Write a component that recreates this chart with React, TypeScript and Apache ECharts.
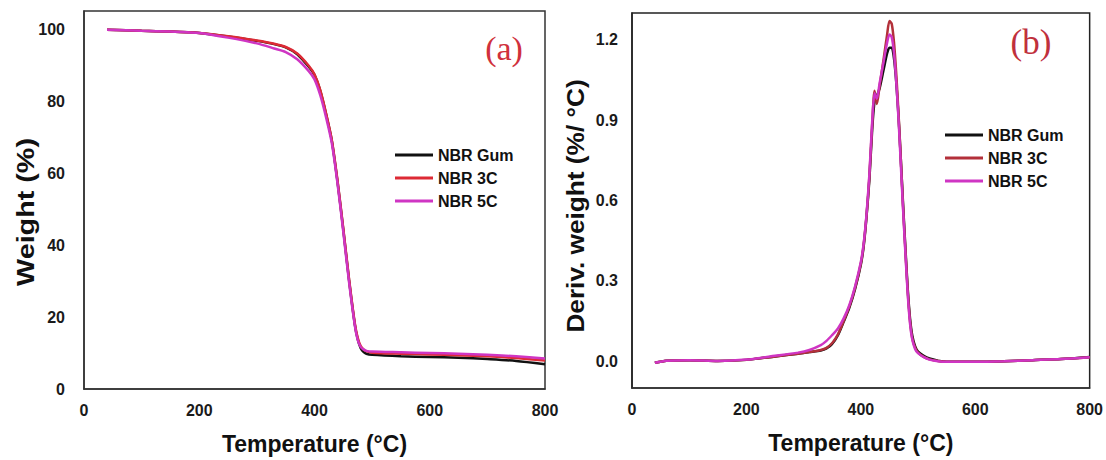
import React, { useEffect, useRef } from "react";
import * as echarts from "echarts";

// ---- TGA (panel a) ----
const tgaTemp = [40, 100, 150, 200, 250, 300, 330, 350, 370, 390, 400, 410, 420, 430, 440, 450, 460, 470, 475, 480, 485, 490, 500, 550, 600, 650, 700, 750, 800];
const tgaGum = [99.8, 99.5, 99.3, 98.9, 97.9, 96.7, 95.8, 94.9, 93.0, 89.5, 87.2, 82.8, 76.4, 69.0, 57.5, 44.2, 30.2, 17.9, 13.8, 11.4, 10.3, 9.8, 9.5, 9.1, 8.9, 8.7, 8.3, 7.8, 6.9];
const tga3C = [99.8, 99.5, 99.3, 98.9, 98.0, 96.8, 95.9, 95.0, 93.2, 89.8, 87.4, 83.0, 76.6, 69.2, 57.8, 44.5, 30.5, 18.2, 14.2, 12.0, 11.0, 10.5, 10.1, 9.8, 9.6, 9.4, 9.1, 8.6, 7.9];
const tga5C = [99.8, 99.5, 99.3, 98.9, 97.6, 96.0, 94.6, 93.6, 91.6, 88.3, 86.0, 81.6, 75.5, 68.3, 57.0, 43.6, 29.6, 17.6, 13.6, 11.7, 11.0, 10.6, 10.4, 10.2, 10.0, 9.8, 9.5, 9.1, 8.5];

// ---- DTG (panel b) ----
const dtgTemp = [40, 60, 100, 150, 200, 250, 290, 310, 330, 340, 350, 360, 370, 380, 390, 400, 405, 410, 415, 420, 424, 428, 433, 440, 446, 450, 454, 458, 462, 466, 470, 474, 478, 482, 486, 490, 495, 500, 510, 520, 535, 550, 600, 650, 700, 750, 800];
const dtgGum = [-0.006, 0.002, 0.004, 0.001, 0.005, 0.018, 0.028, 0.034, 0.04, 0.048, 0.065, 0.097, 0.147, 0.2, 0.27, 0.36, 0.43, 0.54, 0.68, 0.87, 0.97, 0.99, 1.02, 1.09, 1.15, 1.17, 1.17, 1.13, 1.04, 0.91, 0.75, 0.58, 0.42, 0.27, 0.16, 0.095, 0.055, 0.036, 0.02, 0.01, 0.002, -0.002, -0.002, 0.0, 0.004, 0.008, 0.016];
const dtg3C = [-0.006, 0.002, 0.004, 0.001, 0.005, 0.018, 0.028, 0.034, 0.042, 0.05, 0.068, 0.1, 0.15, 0.205, 0.275, 0.365, 0.435, 0.545, 0.69, 0.89, 1.01, 0.96, 1.03, 1.13, 1.22, 1.27, 1.26, 1.19, 1.07, 0.92, 0.75, 0.57, 0.41, 0.26, 0.15, 0.085, 0.05, 0.032, 0.016, 0.007, 0.001, -0.002, -0.002, 0.0, 0.004, 0.008, 0.015];
const dtg5C = [-0.006, 0.002, 0.004, 0.001, 0.006, 0.02, 0.032, 0.042, 0.06, 0.076, 0.098, 0.122, 0.16, 0.21, 0.28, 0.37, 0.44, 0.55, 0.7, 0.9, 1.0, 0.98, 1.04, 1.12, 1.19, 1.22, 1.21, 1.15, 1.04, 0.9, 0.73, 0.56, 0.4, 0.25, 0.14, 0.08, 0.045, 0.03, 0.015, 0.006, 0.0, -0.002, -0.002, 0.0, 0.004, 0.008, 0.015];

const seriesNames = ["NBR Gum", "NBR 3C", "NBR 5C"];
const xTicks = [0, 200, 400, 600, 800];
const weightTicks = [0, 20, 40, 60, 80, 100];
const derivTicks = [0, 0.3, 0.6, 0.9, 1.2];

const FONT = '"Liberation Sans", Arial, Helvetica, sans-serif';
const colorsA = ["#111111", "#dd2a35", "#cf35c3"];
const colorsB = ["#111111", "#b3303a", "#cf35c3"];

const zip = (xs: number[], ys: number[]) => xs.map((x, i) => [x, ys[i]]);

export default function App() {
  const ref = useRef<HTMLDivElement>(null);

  useEffect(() => {
    if (!ref.current) return;
    const chart = echarts.init(ref.current, undefined, { renderer: "svg" });

    const isTick = (v: number, ticks: number[]) => ticks.some((t) => Math.abs(t - v) < 1e-6);

    const labelStyle = {
      color: "#1a1a1a",
      fontFamily: FONT,
      fontWeight: "bold",
      fontSize: 16,
    };

    const xAxisBase = (gridIndex: number) => ({
      type: "value",
      gridIndex,
      min: 0,
      max: 800,
      interval: 200,
      axisLine: { show: true, onZero: false, lineStyle: { color: "#333", width: 1.5 } },
      axisTick: { show: false },
      splitLine: { show: false },
      axisLabel: {
        ...labelStyle,
        margin: 13,
        formatter: (v: number) => (isTick(v, xTicks) ? String(v) : ""),
      },
      name: "Temperature (°C)",
      nameLocation: "middle",
      nameGap: 43,
      nameTextStyle: { color: "#111", fontFamily: FONT, fontWeight: "bold", fontSize: 23 },
    });

    const line = (name: string, data: number[][], color: string, xi: number, z: number) => ({
      type: "line",
      name,
      xAxisIndex: xi,
      yAxisIndex: xi,
      data,
      showSymbol: false,
      smooth: 0.25,
      lineStyle: { color, width: 2.5 },
      itemStyle: { color },
      z,
    });

    const legendBase = (left: number, top: number, colors: string[]) => ({
      orient: "vertical",
      left,
      top,
      padding: 0,
      itemGap: 5,
      itemWidth: 38,
      itemHeight: 3,
      icon: "rect",
      selectedMode: false,
      textStyle: { color: "#111", fontFamily: FONT, fontWeight: "bold", fontSize: 16, lineHeight: 18 },
      data: seriesNames.map((n, i) => ({ name: n, itemStyle: { color: colors[i] } })),
    });

    chart.setOption({
      animation: false,
      backgroundColor: "#fff",
      grid: [
        { left: 84, top: 11, width: 461, height: 378, show: true, borderColor: "#333", borderWidth: 1.5, backgroundColor: "transparent" },
        { left: 632, top: 13, width: 459, height: 375, show: true, borderColor: "#222", borderWidth: 1.5, backgroundColor: "transparent" },
      ],
      xAxis: [xAxisBase(0), xAxisBase(1)],
      yAxis: [
        {
          type: "value",
          gridIndex: 0,
          min: 0,
          max: 105,
          interval: 5,
          axisLine: { show: true, onZero: false, lineStyle: { color: "#333", width: 1.5 } },
          axisTick: { show: false },
          splitLine: { show: false },
          axisLabel: {
            ...labelStyle,
            margin: 19,
            formatter: (v: number) => (isTick(v, weightTicks) ? String(v) : ""),
          },
        },
        {
          type: "value",
          gridIndex: 1,
          min: -0.1,
          max: 1.3,
          interval: 0.1,
          axisLine: { show: true, onZero: false, lineStyle: { color: "#222", width: 1.5 } },
          axisTick: { show: false },
          splitLine: { show: false },
          axisLabel: {
            ...labelStyle,
            margin: 14,
            formatter: (v: number) => (isTick(v, derivTicks) ? v.toFixed(1) : ""),
          },
        },
      ],
      legend: [legendBase(395, 146, colorsA), legendBase(945, 126, colorsB)],
      series: [
        line(seriesNames[0], zip(tgaTemp, tgaGum), colorsA[0], 0, 2),
        line(seriesNames[1], zip(tgaTemp, tga3C), colorsA[1], 0, 3),
        line(seriesNames[2], zip(tgaTemp, tga5C), colorsA[2], 0, 4),
        line(seriesNames[0], zip(dtgTemp, dtgGum), colorsB[0], 1, 2),
        line(seriesNames[1], zip(dtgTemp, dtg3C), colorsB[1], 1, 3),
        line(seriesNames[2], zip(dtgTemp, dtg5C), colorsB[2], 1, 4),
      ],
      graphic: [
        {
          type: "text",
          x: 26,
          y: 212,
          rotation: Math.PI / 2,
          scaleX: 1.25,
          style: {
            text: "Weight (%)",
            font: `bold 23px ${FONT}`,
            fill: "#111",
            textAlign: "center",
            textVerticalAlign: "middle",
            align: "center",
            verticalAlign: "middle",
          },
        },
        {
          type: "text",
          x: 576,
          y: 206,
          rotation: Math.PI / 2,
          scaleX: 1.14,
          style: {
            text: "Deriv. weight (%/ °C)",
            font: `bold 23px ${FONT}`,
            fill: "#111",
            textAlign: "center",
            textVerticalAlign: "middle",
            align: "center",
            verticalAlign: "middle",
          },
        },
        {
          type: "text",
          x: 504,
          y: 48,
          style: {
            text: "(a)",
            font: `34px "Liberation Serif", "Times New Roman", serif`,
            fill: "#d0303c",
            textAlign: "center",
            textVerticalAlign: "middle",
            align: "center",
            verticalAlign: "middle",
          },
        },
        {
          type: "text",
          x: 1031,
          y: 42,
          style: {
            text: "(b)",
            font: `35px "Liberation Serif", "Times New Roman", serif`,
            fill: "#c0303c",
            textAlign: "center",
            textVerticalAlign: "middle",
            align: "center",
            verticalAlign: "middle",
          },
        },
      ],
    });

    return () => chart.dispose();
  }, []);

  return (
    <div
      ref={ref}
      style={{ position: "absolute", left: 0, top: 0, width: 1106, height: 460, background: "#fff" }}
    />
  );
}
